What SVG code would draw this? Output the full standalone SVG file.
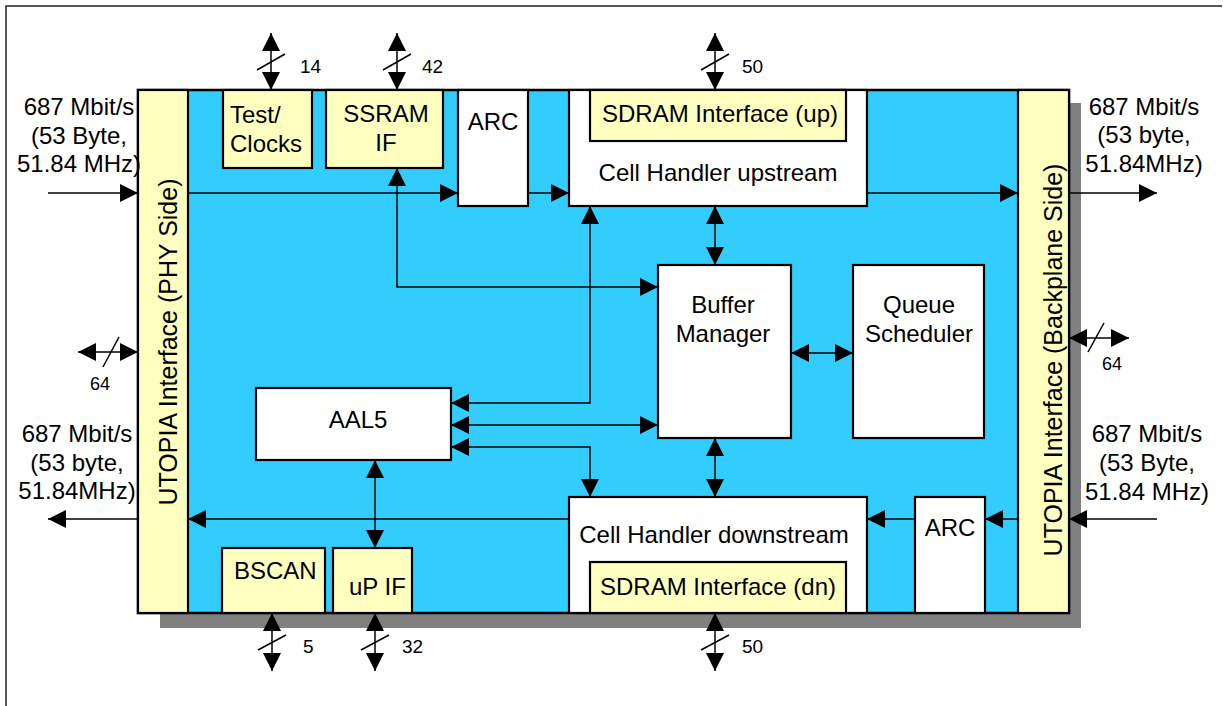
<svg xmlns="http://www.w3.org/2000/svg" width="1223" height="706" viewBox="0 0 1223 706">
<defs>
<marker id="ah" viewBox="0 0 18 18" markerWidth="18" markerHeight="18" refX="18" refY="9" orient="auto-start-reverse" markerUnits="userSpaceOnUse">
<path d="M0,0 L18,9 L0,18 z" fill="#000"/>
</marker>
<style>
text{font-family:"Liberation Sans",Arial,sans-serif;font-size:24px;fill:#000}
.rot{font-size:25px}
.sm{font-size:19px}
.xs{font-size:18px}
.mid{text-anchor:middle}
.box{stroke:#000;stroke-width:2.2}
.w{fill:#fff}
.y{fill:#FFFFC0}
.c{fill:none;stroke:#000;stroke-width:1.5}
.e{marker-end:url(#ah)}
.b{marker-start:url(#ah);marker-end:url(#ah)}
.sl{stroke:#000;stroke-width:1.5}
</style>
</defs>
<path d="M6,706 V6 H1222" fill="none" stroke="#222" stroke-width="1.5"/>
<g id="chip">
<rect x="160" y="103" width="921" height="525" fill="#808080"/>
<rect x="138" y="90" width="931" height="523" fill="#33CCFF" stroke="#000" stroke-width="2.5"/>
</g>
<g id="utopia-phy">
<rect class="box y" x="138" y="90" width="50" height="523"/>
<text class="mid rot" transform="translate(177,342) rotate(-90)">UTOPIA Interface (PHY Side)</text>
</g>
<g id="utopia-backplane">
<rect class="box y" x="1018" y="90" width="51" height="523"/>
<text class="mid rot" transform="translate(1062,360) rotate(-90)">UTOPIA Interface (Backplane Side)</text>
</g>
<g id="test-clocks">
<rect class="box y" x="223" y="90" width="89" height="78"/>
<text x="230" y="123">Test/</text>
<text x="230" y="152">Clocks</text>
</g>
<g id="ssram-if">
<rect class="box y" x="326" y="90" width="117" height="78"/>
<text class="mid" x="386" y="122">SSRAM</text>
<text class="mid" x="386" y="151">IF</text>
</g>
<g id="arc-up">
<rect class="box w" x="458" y="90" width="70" height="116"/>
<text class="mid" x="493" y="130">ARC</text>
</g>
<g id="cell-handler-up">
<rect class="box w" x="569" y="90" width="298" height="116"/>
<rect class="box y" x="590" y="90" width="256" height="51"/>
<text class="mid" x="720" y="122">SDRAM Interface (up)</text>
<text class="mid" x="718" y="181">Cell Handler upstream</text>
</g>
<g id="buffer-manager">
<rect class="box w" x="658" y="265" width="133" height="173"/>
<text class="mid" x="723" y="313">Buffer</text>
<text class="mid" x="723" y="342">Manager</text>
</g>
<g id="queue-scheduler">
<rect class="box w" x="853" y="265" width="131" height="173"/>
<text class="mid" x="919" y="313">Queue</text>
<text class="mid" x="919" y="342">Scheduler</text>
</g>
<g id="aal5">
<rect class="box w" x="256" y="388" width="195" height="72"/>
<text class="mid" x="358" y="428">AAL5</text>
</g>
<g id="cell-handler-down">
<rect class="box w" x="569" y="497" width="298" height="116"/>
<rect class="box y" x="590" y="562" width="256" height="51"/>
<text class="mid" x="714" y="543">Cell Handler downstream</text>
<text class="mid" x="718" y="595">SDRAM Interface (dn)</text>
</g>
<g id="arc-down">
<rect class="box w" x="915" y="497" width="70" height="116"/>
<text class="mid" x="950" y="536">ARC</text>
</g>
<g id="bscan">
<rect class="box y" x="222" y="548" width="103" height="65"/>
<text x="234" y="579">BSCAN</text>
</g>
<g id="up-if">
<rect class="box y" x="333" y="548" width="79" height="65"/>
<text x="349" y="595">uP IF</text>
</g>
<g id="connectors">
<path class="c e" d="M48,193 H138"/>
<path class="c e" d="M188,193 H458"/>
<path class="c e" d="M528,193 H569"/>
<path class="c e" d="M867,193 H1018"/>
<path class="c e" d="M1069,193 H1157"/>
<path class="c e" d="M1157,519 H1069"/>
<path class="c e" d="M1018,519 H985"/>
<path class="c e" d="M915,519 H867"/>
<path class="c e" d="M569,519 H188"/>
<path class="c e" d="M138,519 H48"/>
<path class="c b" d="M397,168 V287 H658"/>
<path class="c b" d="M715,206 V265"/>
<path class="c b" d="M715,438 V497"/>
<path class="c b" d="M791,353 H853"/>
<path class="c b" d="M590,206 V403 H451"/>
<path class="c b" d="M451,425 H658"/>
<path class="c b" d="M451,447 H590 V497"/>
<path class="c b" d="M375,460 V548"/>
<path class="c b" d="M271,33 V90"/>
<line class="sl" x1="257" y1="70" x2="285" y2="54"/>
<path class="c b" d="M397,33 V90"/>
<line class="sl" x1="383" y1="70" x2="411" y2="54"/>
<path class="c b" d="M715,33 V90"/>
<line class="sl" x1="701" y1="70" x2="729" y2="54"/>
<path class="c b" d="M272,613 V671"/>
<line class="sl" x1="258" y1="650" x2="286" y2="635"/>
<path class="c b" d="M375,613 V671"/>
<line class="sl" x1="361" y1="650" x2="389" y2="635"/>
<path class="c b" d="M715,613 V671"/>
<line class="sl" x1="701" y1="650" x2="729" y2="635"/>
<path class="c b" d="M78,352 H138"/>
<line class="sl" x1="103" y1="367" x2="119" y2="337"/>
<path class="c b" d="M1069,338 H1129"/>
<line class="sl" x1="1088" y1="352" x2="1104" y2="323"/>
</g>
<g id="labels">
<text class="sm" x="300" y="73">14</text>
<text class="sm" x="422" y="73">42</text>
<text class="sm" x="742" y="73">50</text>
<text class="sm" x="303" y="653">5</text>
<text class="sm" x="402" y="653">32</text>
<text class="sm" x="742" y="653">50</text>
<text class="xs mid" x="100" y="390">64</text>
<text class="xs mid" x="1112" y="370">64</text>
<text class="mid" x="79" y="115">687 Mbit/s</text>
<text class="mid" x="79" y="144">(53 Byte,</text>
<text class="mid" x="79" y="172">51.84 MHz)</text>
<text class="mid" x="77" y="442">687 Mbit/s</text>
<text class="mid" x="77" y="471">(53 byte,</text>
<text class="mid" x="77" y="499">51.84MHz)</text>
<text class="mid" x="1144" y="115">687 Mbit/s</text>
<text class="mid" x="1144" y="143">(53 byte,</text>
<text class="mid" x="1144" y="172">51.84MHz)</text>
<text class="mid" x="1147" y="442">687 Mbit/s</text>
<text class="mid" x="1147" y="471">(53 Byte,</text>
<text class="mid" x="1147" y="500">51.84 MHz)</text>
</g>
</svg>
